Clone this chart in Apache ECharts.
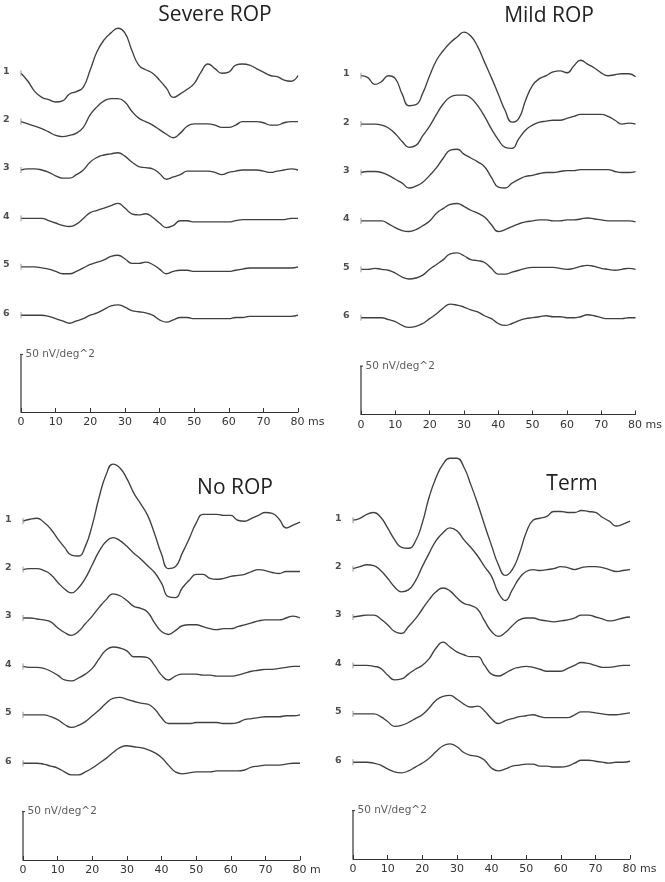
<!DOCTYPE html>
<html><head><meta charset="utf-8">
<script src="https://cdn.jsdelivr.net/npm/echarts@6/dist/echarts.min.js"></script>
<style>html,body{margin:0;padding:0;background:#fff}#c{width:665px;height:882px}</style>
</head><body><div id="c"></div>
<script>
// sample times (ms)
const times = [0,2,4,6,8,10,12,14,16,18,20,22,24,26,28,30,32,34,36,38,40,42,44,46,48,50,52,54,56,58,60,62,64,66,68,70,72,74,76,78,80];
const xTicks = [0,10,20,30,40,50,60,70,80];
const traceLabels = ['1','2','3','4','5','6'];
const titles = ['Severe ROP','Mild ROP','No ROP','Term'];
const scaleLabel = '50 nV/deg^2';
const scaleValue = 50;

// waveforms, nV/deg^2, relative to each trace's start
const severe1 = [0,-7,-16,-21,-23,-25,-24,-18,-16,-12,3,19,29,35,39,35,20,7,3,0,-6,-13,-21,-18,-14,-9,1,8,4,0,1,7,8,7,4,1,-2,-3,-6,-7,-2];
const severe2 = [0,-2,-4,-6,-9,-12,-13,-12,-10,-5,6,13,18,20,20,17,9,3,0,-3,-7,-11,-14,-10,-4,-2,-2,-2,-3,-5,-5,-3,0,0,0,-1,-3,-3,-1,0,0];
const severe3 = [0,1,1,0,-2,-5,-7,-7,-4,0,7,11,13,14,15,12,7,3,2,1,-3,-8,-6,-4,-1,-1,-1,-1,-2,-4,-2,-1,0,0,0,-1,-2,-1,0,1,0];
const severe4 = [0,0,0,0,-2,-4,-6,-7,-5,0,5,7,9,11,13,9,4,3,4,1,-4,-8,-6,-2,-2,-3,-3,-3,-3,-3,-3,-2,-1,-1,-1,-1,-1,-1,-1,0,0];
const severe5 = [0,0,0,-1,-2,-4,-6,-6,-4,-1,2,4,6,9,10,7,3,3,4,2,-2,-6,-4,-3,-3,-4,-4,-4,-4,-4,-4,-3,-2,-1,-1,-1,-1,-1,-1,-1,0];
const severe6 = [0,0,0,0,-1,-3,-5,-7,-5,-3,0,2,5,8,9,7,4,3,2,0,-4,-6,-4,-2,-2,-3,-3,-3,-3,-3,-3,-2,-2,-1,-1,-1,-1,-1,-1,-1,0];

const mild1 = [0,-2,-9,-6,0,-3,-19,-31,-30,-18,0,16,26,34,40,45,41,30,14,-2,-19,-36,-48,-44,-25,-10,-3,0,4,5,3,10,16,12,8,3,0,1,2,2,-1];
const mild2 = [0,0,0,-1,-4,-10,-18,-24,-22,-12,-2,10,21,28,30,30,27,19,8,-5,-16,-24,-25,-15,-6,-1,2,3,4,4,6,8,10,10,10,10,8,4,0,1,0];
const mild3 = [0,1,1,0,-3,-7,-11,-16,-14,-10,-3,5,15,23,24,19,15,11,6,-5,-15,-16,-11,-7,-4,-3,-1,0,0,1,2,2,3,3,3,3,3,1,0,0,1];
const mild4 = [0,0,0,0,-3,-7,-10,-11,-9,-5,0,8,13,17,18,15,11,8,4,-4,-11,-9,-6,-3,-1,0,1,1,0,0,1,1,2,3,2,1,0,0,0,0,-1];
const mild5 = [0,0,1,0,-1,-4,-8,-10,-9,-6,0,5,10,16,17,14,10,9,7,1,-5,-5,-3,-1,1,2,2,2,2,1,0,1,3,4,3,1,0,-1,0,1,0];
const mild6 = [0,0,0,0,-2,-4,-8,-10,-9,-6,-1,4,10,14,13,11,8,6,2,-1,-6,-8,-6,-3,-1,0,1,2,1,1,0,0,1,3,2,0,-1,-1,-1,0,0];

const noRop1 = [0,2,3,-1,-8,-18,-27,-35,-36,-26,-4,25,48,59,55,44,29,18,6,-13,-34,-49,-47,-33,-18,-2,7,7,7,6,6,1,0,3,6,9,8,2,-7,-4,-1];
const noRop2 = [0,1,1,-1,-5,-13,-20,-24,-19,-9,5,19,29,33,30,24,17,11,4,-3,-14,-28,-29,-19,-11,-5,-5,-9,-10,-9,-7,-6,-5,-2,0,-1,-3,-4,-2,-2,-2];
const noRop3 = [0,0,-1,-2,-4,-10,-15,-18,-14,-6,2,11,19,25,23,18,12,10,6,-5,-14,-17,-13,-8,-7,-7,-9,-11,-12,-11,-11,-9,-7,-5,-3,-2,-2,-2,0,2,0];
const noRop4 = [0,-1,-1,-2,-5,-9,-14,-15,-12,-8,-2,8,17,20,19,16,10,10,9,1,-9,-14,-10,-8,-8,-8,-9,-9,-10,-10,-10,-9,-7,-5,-4,-3,-3,-2,-1,0,0];
const noRop5 = [0,0,0,0,-2,-5,-10,-13,-11,-7,-1,5,12,17,18,16,14,12,11,6,-3,-9,-9,-9,-9,-8,-8,-8,-8,-9,-9,-8,-5,-4,-3,-2,-2,-2,-1,-1,0];
const noRop6 = [0,0,0,-1,-3,-5,-9,-12,-12,-9,-5,0,5,11,16,18,17,16,14,11,6,-2,-9,-11,-10,-9,-9,-9,-8,-8,-8,-8,-7,-4,-3,-2,-2,-2,-1,0,0];

const term1 = [0,2,6,8,3,-8,-20,-28,-29,-22,-3,24,44,58,64,64,55,37,17,-5,-26,-46,-57,-51,-35,-13,0,2,4,9,9,8,8,10,9,8,3,-1,-6,-4,-1];
const term2 = [0,2,4,3,-2,-10,-19,-24,-22,-13,2,16,29,37,42,39,30,22,13,2,-8,-25,-33,-22,-10,-3,-1,-2,-1,0,2,1,-1,1,2,2,1,-1,-3,-2,-1];
const term3 = [0,1,2,2,-2,-8,-15,-17,-10,-2,8,18,26,30,27,20,14,12,8,-4,-15,-20,-16,-9,-3,-1,-1,-3,-4,-5,-4,-3,-1,2,2,0,-2,-4,-3,-1,0];
const term4 = [0,0,0,-1,-3,-10,-15,-14,-9,-4,0,7,18,24,19,14,11,9,9,0,-9,-11,-8,-4,-2,-1,-2,-4,-6,-6,-6,-3,0,3,2,0,-2,-2,-1,0,0];
const term5 = [0,0,0,0,-3,-8,-13,-12,-9,-5,-1,6,14,18,19,15,10,7,8,3,-5,-10,-7,-5,-3,-2,-1,-3,-4,-4,-4,-4,-1,2,2,1,0,-1,-1,0,1];
const term6 = [0,0,0,-1,-3,-7,-10,-11,-9,-5,-1,4,11,17,19,16,10,7,6,2,-6,-9,-7,-4,-3,-2,-2,-4,-4,-5,-5,-4,-1,2,2,1,0,-1,0,0,1];

// layout (pixels) and trace spacing (nV/deg^2)
const rowPx = 48.4;
const panels = [
  {title: titles[0], traces: [severe1,severe2,severe3,severe4,severe5,severe6], spacing: 42, left: 21, right: 298, axisY: 412, titleX: 215, titleY: 5, unit: ' ms'},
  {title: titles[1], traces: [mild1,mild2,mild3,mild4,mild5,mild6], spacing: 50, left: 361, right: 638, axisY: 414.5, titleX: 549, titleY: 6, unit: ' ms'},
  {title: titles[2], traces: [noRop1,noRop2,noRop3,noRop4,noRop5,noRop6], spacing: 50, left: 23, right: 300, axisY: 860, titleX: 235, titleY: 478, unit: ' m'},
  {title: titles[3], traces: [term1,term2,term3,term4,term5,term6], spacing: 50, left: 353, right: 630, axisY: 859, titleX: 572, titleY: 474, unit: ' ms'}
];

const FONT = 'DejaVu Sans';
const chart = echarts.init(document.getElementById('c'), null, {renderer: 'canvas'});
const grids = [], xAxes = [], yAxes = [], series = [];

panels.forEach((p, pi) => {
  const ppu = rowPx / p.spacing;
  const yMax = 8.5 * p.spacing;
  const h = yMax * ppu;
  grids.push({left: p.left, top: p.axisY - h, width: p.right - p.left, height: h});
  const padW = p.unit === ' ms' ? 19 : 13;
  xAxes.push({
    type: 'value', gridIndex: pi, min: 0, max: 80, interval: 10,
    axisLine: {show: true, onZero: false, lineStyle: {color: '#333', width: 1}},
    axisTick: {show: true, inside: true, length: 4, lineStyle: {color: '#333', width: 1}},
    splitLine: {show: false},
    axisLabel: {
      margin: 5, fontSize: 11, color: '#333', fontFamily: FONT,
      formatter: v => v === 80 ? '{p|}80' + p.unit : String(v),
      rich: {p: {width: padW}}
    }
  });
  yAxes.push({type: 'value', gridIndex: pi, min: 0, max: yMax, show: false});

  const labelData = [];
  p.traces.forEach((vals, ti) => {
    const off = (7 - ti) * p.spacing;
    series.push({
      type: 'line', xAxisIndex: pi, yAxisIndex: pi, silent: true, clip: false,
      showSymbol: false, symbol: 'none', smooth: 0.5,
      lineStyle: {color: '#404040', width: 1.35},
      data: times.map((t, j) => [t, vals[j] + off])
    });
    const d = 3 / ppu;
    series.push({
      type: 'line', xAxisIndex: pi, yAxisIndex: pi, silent: true, clip: false,
      showSymbol: false, symbol: 'none',
      lineStyle: {color: '#999', width: 1},
      data: [[0, off - d], [0, off + d]]
    });
    labelData.push({name: traceLabels[ti], value: [0, off]});
  });
  series.push({
    type: 'scatter', xAxisIndex: pi, yAxisIndex: pi, silent: true, clip: false,
    symbolSize: 1, itemStyle: {color: 'rgba(0,0,0,0)'},
    label: {show: true, position: 'left', distance: 11, formatter: '{b}', offset: [0, -2],
      fontSize: 9.5, fontWeight: 'bold', fontFamily: FONT, color: '#222'},
    data: labelData
  });
  // scale bar
  const tw = 0.6;
  series.push({
    type: 'line', xAxisIndex: pi, yAxisIndex: pi, silent: true, clip: false,
    showSymbol: false, symbol: 'none', lineStyle: {color: '#333', width: 1.2},
    data: [[0, 0], [0, scaleValue]]
  });
  series.push({
    type: 'line', xAxisIndex: pi, yAxisIndex: pi, silent: true, clip: false,
    showSymbol: false, symbol: 'none', lineStyle: {color: '#333', width: 1},
    data: [[-tw, scaleValue], [tw, scaleValue]]
  });
  series.push({
    type: 'scatter', xAxisIndex: pi, yAxisIndex: pi, silent: true, clip: false,
    symbolSize: 1, itemStyle: {color: 'rgba(0,0,0,0)'},
    label: {show: true, position: 'right', distance: 4, formatter: scaleLabel,
      fontSize: 10.5, fontFamily: FONT, color: '#333'},
    data: [[0, scaleValue]]
  });
});

const gfx = panels.map(p => ({
  type: 'text', x: p.titleX, y: p.titleY, silent: true,
  style: {text: p.title, font: '21px "Open Sans"', fill: '#222', textAlign: 'center', textVerticalAlign: 'top'}
}));

chart.setOption({
  animation: false,
  backgroundColor: '#fff',
  grid: grids, xAxis: xAxes, yAxis: yAxes, series: series,
  graphic: gfx
});
</script></body></html>
